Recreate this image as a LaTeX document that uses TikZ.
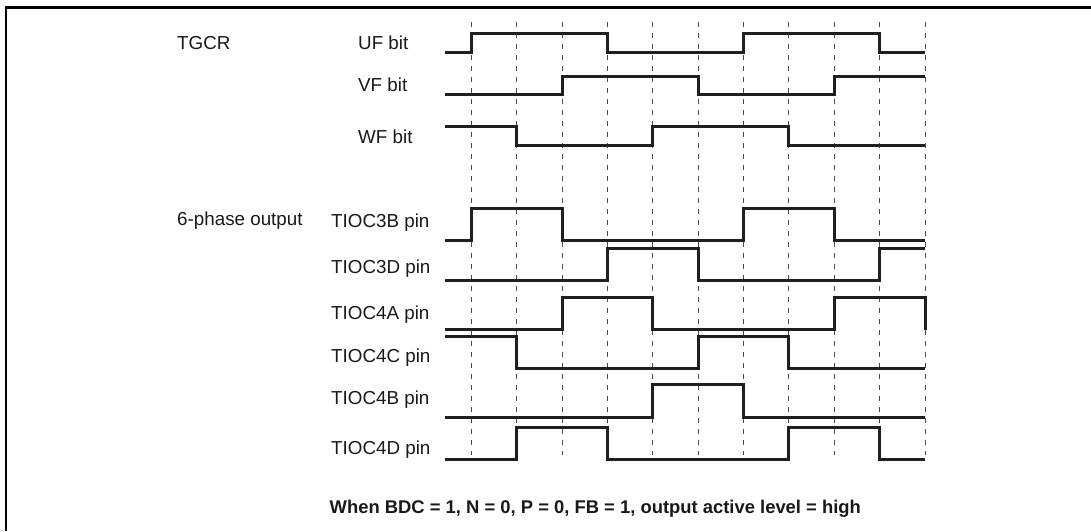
\documentclass[tikz,border=0pt]{standalone}
\usepackage{fontspec}
\setmainfont{Liberation Sans}
\begin{document}
\begin{tikzpicture}[x=1pt,y=-1pt,
  sigline/.style={line width=3pt,color=black!88,line join=miter},
  gridline/.style={line width=0.9pt,color=black!70,dash pattern=on 5pt off 6pt},
  lbl/.style={anchor=base west,inner sep=0pt,font=\fontsize{18.8}{22}\selectfont,text=black!90},
  note/.style={anchor=base west,inner sep=0pt,font=\fontsize{18.4}{22}\selectfont\bfseries,text=black!90},
  frame/.style={line width=2.4pt,color=black}]
\useasboundingbox (0,0) rectangle (1091,531);
\fill[white] (0,0) rectangle (1091,531);
% frame
\draw[frame] (5.8,531) -- (5.8,7.5) -- (1091,7.5);
% grid coordinates
\foreach \i/\xx in {0/471.3,1/516.7,2/562.0,3/607.4,4/652.8,5/698.2,6/743.5,7/788.9,8/834.3,9/879.6,10/925.0}{
  \coordinate (gt\i) at (\xx,22);
  \coordinate (gb\i) at (\xx,455);
  \draw[gridline] (gt\i) -- (gb\i);
}
% labels
\node[lbl] (tgcr) at (177,49.8) {TGCR};
\node[lbl] (uf) at (358,49.8) {UF bit};
\node[lbl] (vf) at (358,91.8) {VF bit};
\node[lbl] (wf) at (358,143.8) {WF bit};
\node[lbl] (six) at (177,225.8) {6-phase output};
\node[lbl] (t3b) at (331,227.8) {TIOC3B pin};
\node[lbl] (t3d) at (331,273.3) {TIOC3D pin};
\node[lbl] (t4a) at (331,319.8) {TIOC4A pin};
\node[lbl] (t4c) at (331,362.4) {TIOC4C pin};
\node[lbl] (t4b) at (331,404.8) {TIOC4B pin};
\node[lbl] (t4d) at (331,454.5) {TIOC4D pin};
\node[note] (cond) at (329.5,513.5) {When BDC = 1, N = 0, P = 0, FB = 1, output active level = high};
% waveforms
% UF
\draw[sigline] (445,52.3) -| (471.3,33.7) -| (607.4,52.3) -| (743.5,33.7) -| (879.6,52.3) -- (925,52.3);
% VF
\draw[sigline] (445,94.7) -| (562.0,76.3) -| (698.2,94.7) -| (834.3,76.3) -- (925,76.3);
% WF
\draw[sigline] (445,126.7) -| (516.7,145) -| (652.8,126.7) -| (788.9,145) -- (925,145);
% TIOC3B
\draw[sigline] (445,240.3) -| (471.3,208.3) -| (562.0,240.3) -| (743.5,208.3) -| (834.3,240.3) -- (925,240.3);
% TIOC3D
\draw[sigline] (445,280) -| (607.4,248) -| (698.2,280) -| (879.6,248) -- (925,248);
% TIOC4A
\draw[sigline] (445,329.7) -| (562.0,297.3) -| (652.8,329.7) -| (834.3,297.3) -| (925,329.7);
% TIOC4C
\draw[sigline] (445,336.3) -| (516.7,368.7) -| (698.2,336.3) -| (788.9,368.7) -- (925,368.7);
% TIOC4B
\draw[sigline] (445,417.7) -| (652.8,384.7) -| (743.5,417.7) -- (925,417.7);
% TIOC4D
\draw[sigline] (445,459.3) -| (516.7,427.3) -| (607.4,459.3) -| (788.9,427.3) -| (879.6,459.3) -- (925,459.3);
\end{tikzpicture}
\end{document}
